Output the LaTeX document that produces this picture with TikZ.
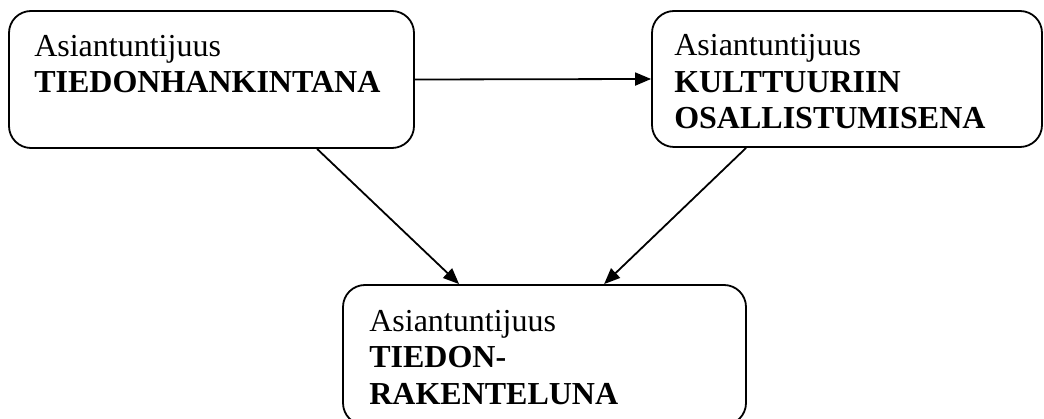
\documentclass[tikz,border=0pt]{standalone}
\usepackage{fontspec}
\setmainfont{Liberation Serif}
\usetikzlibrary{arrows.meta,calc}
\begin{document}
\begin{tikzpicture}[x=1pt,y=-1pt,
  box/.style={draw,line width=1.8pt,rounded corners=22pt,inner sep=0pt},
  txt/.style={inner sep=0pt,align=left,font=\fontsize{32}{36.5}\selectfont},
  conn/.style={line width=1.8pt,-{Triangle[length=16pt,width=13pt]}}]
\useasboundingbox (0,0) rectangle (1044,419);
\node[box,minimum width=405pt,minimum height=137pt] (A) at (211.5,79.5) {};
\node[box,minimum width=390pt,minimum height=136pt] (B) at (847,79) {};
\node[box,minimum width=403pt,minimum height=140pt] (C) at (544.5,355) {};
\node[txt,anchor=base west] (tA) at ($(A.north west)+(26,82.5)$) {Asiantuntijuus\\\textbf{TIEDONHANKINTANA}};
\node[txt,anchor=base west] (tB) at ($(B.north west)+(23,118.5)$) {Asiantuntijuus\\\textbf{KULTTUURIIN}\\\textbf{OSALLISTUMISENA}};
\node[txt,anchor=base west] (tC) at ($(C.north west)+(27,120)$) {Asiantuntijuus\\\textbf{TIEDON-}\\\textbf{RAKENTELUNA}};
\draw[conn] (A.east) -- (B.west);
\draw[conn] ($(A.south west)+(309,0)$) -- ($(C.north west)+(117,0)$);
\draw[conn] ($(B.south west)+(95,0)$) -- ($(C.north west)+(262,0)$);
\end{tikzpicture}
\end{document}
